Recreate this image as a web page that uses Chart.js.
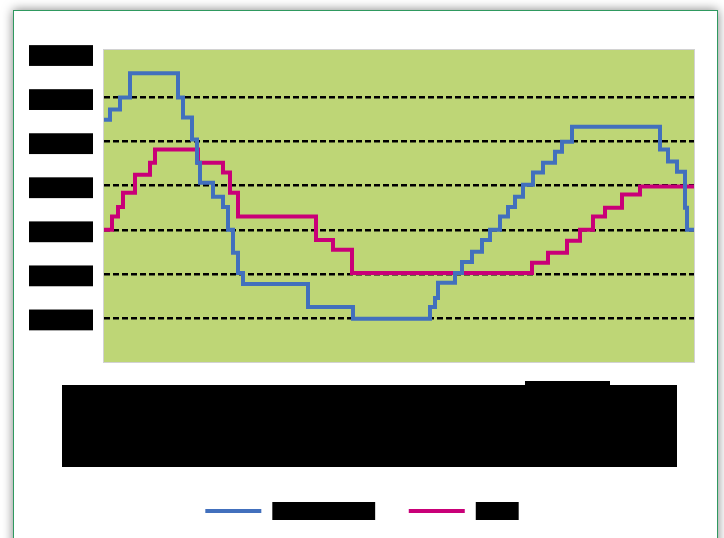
<!DOCTYPE html>
<html>
<head>
<meta charset="utf-8">
<script src="https://cdn.jsdelivr.net/npm/chart.js@4.4.0/dist/chart.umd.min.js"></script>
<style>
body { margin:0; background:#fff; width:724px; height:538px; overflow:hidden; position:relative; }
#frame { position:absolute; left:13px; top:10px; width:703px; height:600px; border:1px solid #2f9960; background:#fff; box-shadow:0 0 10px rgba(0,0,0,0.5); }
#myChart { position:absolute; left:0; top:0; }
</style>
</head>
<body>
<div id="frame"></div>
<canvas id="myChart" width="724" height="538"></canvas>
<script>
// step start positions (x) and values (y)
const blueX = [0, 0.6, 1.6, 2.6, 7.4, 7.9, 8.8, 9.3, 9.6, 10.9, 11.9, 12.4, 12.9, 13.4, 13.9, 20.4, 24.9, 32.6, 33.1, 33.4, 35.1, 35.8, 36.8, 37.8, 38.6, 39.6, 40.4, 41.1, 41.9, 42.9, 43.9, 45.1, 45.8, 46.8, 55.6, 56.4, 57.3, 58.1, 58.3, 59];
const blueY = [5.5, 5.73, 6.0, 6.55, 6.0, 5.55, 5.05, 4.52, 4.07, 3.75, 3.52, 3.0, 2.48, 2.02, 1.77, 1.25, 0.98, 1.25, 1.45, 1.8, 2.02, 2.27, 2.5, 2.77, 3.0, 3.3, 3.52, 3.75, 4.02, 4.3, 4.52, 4.77, 5.0, 5.34, 4.82, 4.55, 4.32, 3.5, 3.0, 3.0];
const pinkX = [0, 0.8, 1.4, 1.9, 3.1, 4.6, 5.1, 9.4, 11.9, 12.6, 13.4, 21.2, 22.9, 24.8, 42.8, 44.4, 46.3, 47.6, 48.9, 50.1, 51.8, 53.6, 59];
const pinkY = [3.0, 3.3, 3.52, 3.84, 4.25, 4.52, 4.82, 4.52, 4.3, 3.84, 3.3, 2.77, 2.55, 2.02, 2.25, 2.48, 2.75, 3.0, 3.3, 3.5, 3.8, 3.98, 3.98];

const seriesNames = [' Cooling demand', ' Output'];
const yTickText = ['10.0', '20.0', '30.0', '40.0', '50.0', '60.0', '70.0'];
const xTitle = 'Period';

// plot background + black redaction blocks behind the texts
const redact = {
  id: 'redact',
  beforeDraw(chart) {
    const {ctx, chartArea: a} = chart;
    ctx.save();
    ctx.fillStyle = '#bed676';
    ctx.fillRect(a.left, a.top, a.right - a.left, a.bottom - a.top);
    ctx.strokeStyle = '#d2d2d2';
    ctx.lineWidth = 1;
    ctx.strokeRect(a.left - 0.5, a.top - 0.5, a.right - a.left + 1, a.bottom - a.top + 1);
    ctx.fillStyle = '#000';
    ctx.fillRect(62, a.bottom + 23, 615, 82);
    ctx.fillRect(525, a.bottom + 19, 85, 6);
    chart.legend.legendHitBoxes.forEach(h => {
      ctx.fillRect(h.left + 67, h.top + 7 - 9, h.width - 66, 18);
    });
    ctx.restore();
  }
};

const ctx = document.getElementById('myChart');
const myChart = new Chart(ctx, {
  type: 'line',
  data: {
    datasets: [{
      label: seriesNames[0],
      data: blueX.map((x, i) => ({x: x, y: blueY[i]})),
      borderColor: '#4270bd',
      backgroundColor: '#4270bd',
      borderWidth: 4,
      pointRadius: 0,
      stepped: true,
      borderJoinStyle: 'miter'
    }, {
      label: seriesNames[1],
      data: pinkX.map((x, i) => ({x: x, y: pinkY[i]})),
      borderColor: '#c90078',
      backgroundColor: '#c90078',
      borderWidth: 4,
      pointRadius: 0,
      stepped: true,
      borderJoinStyle: 'miter'
    }]
  },
  options: {
    responsive: false,
    animation: false,
    devicePixelRatio: 1,
    layout: { padding: {left: 29, right: 30, top: 50, bottom: 10} },
    scales: {
      x: {
        type: 'linear', min: 0, max: 59,
        ticks: { display: false },
        grid: { display: false },
        border: { display: false },
        afterFit: s => { s.height = 107.4; },
        title: { display: true, text: xTitle, color: '#000', font: {family: 'Liberation Sans', size: 14}, padding: {top: 0, bottom: 40} }
      },
      y: {
        min: 0, max: 7.08,
        afterBuildTicks: s => { s.ticks = s.ticks.filter(t => Number.isInteger(t.value) && t.value > 0); },
        afterFit: s => { s.width = 75; },
        ticks: {
          stepSize: 1, includeBounds: false, padding: 30, color: '#000',
          font: {family: 'Liberation Sans', size: 14},
          callback: v => yTickText[v - 1],
          showLabelBackdrop: true, backdropColor: '#000',
          backdropPadding: {top: 0, bottom: 4, left: 23, right: 19}
        },
        grid: { color: c => (c.tick && c.tick.value === 7) ? 'rgba(0,0,0,0)' : '#000', lineWidth: 2.5, drawTicks: false },
        border: { display: false, dash: [6, 3] }
      }
    },
    plugins: {
      legend: {
        position: 'bottom',
        labels: {
          usePointStyle: true, pointStyle: 'line', pointStyleWidth: 56,
          color: '#000', padding: 34.6,
          font: {family: 'Liberation Sans', size: 14}
        }
      },
      tooltip: { enabled: false }
    }
  },
  plugins: [redact]
});
</script>
</body>
</html>
